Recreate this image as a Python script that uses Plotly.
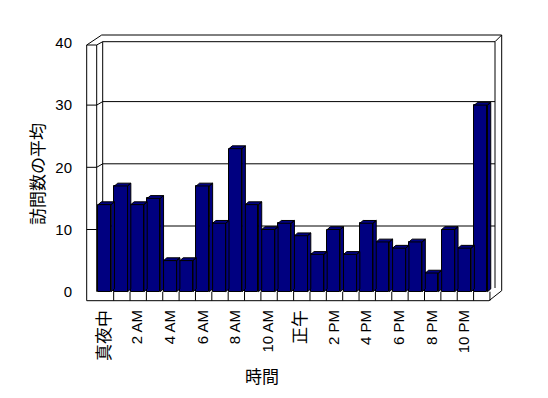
import plotly.graph_objects as go

# ---- data ----
hours = ["真夜中", "1 AM", "2 AM", "3 AM", "4 AM", "5 AM", "6 AM", "7 AM", "8 AM", "9 AM",
         "10 AM", "11 AM", "正午", "1 PM", "2 PM", "3 PM", "4 PM", "5 PM", "6 PM", "7 PM",
         "8 PM", "9 PM", "10 PM", "11 PM"]
visits = [14, 17, 14, 15, 5, 5, 17, 11, 23, 14, 10, 11, 9, 6, 10, 6, 11, 8, 7, 8, 3, 10, 7, 30]
y_ticks = [0, 10, 20, 30, 40]
y_title = "訪問数の平均"
x_title = "時間"

# ---- geometry (pixel mapping of the bar plane, in page pixels) ----
OFF = 8                       # default body margin of the html page
PX, PY = 16.36, 6.22          # px per category, px per unit
X0PX, Y0PX = 97.3, 291.7      # page-pixel position of x=0, y=0
L, R, T, B = 80, 510, 28, 306  # plot area in page px
W, H = 548 - 2 * OFF, 398 - 2 * OFF


def X(px):
    return (px - X0PX) / PX


def Y(py):
    return (Y0PX - py) / PY


def PXp(px):
    return (px - L) / (R - L)


def PYp(py):
    return (B - py) / (B - T)


BAR_OFF, BAR_W = 0.05, 0.80
DX, DY = 0.20, 0.45  # depth offset of bars (data units)
NAVY = "#000080"
FONT = "Liberation Sans, Arial, Noto Sans CJK JP"

n = len(visits)
centers = [i + BAR_OFF + BAR_W / 2 for i in range(n)]

fig = go.Figure()
fig.add_trace(go.Bar(x=centers, y=visits, width=BAR_W,
                     marker=dict(color=NAVY, line=dict(color="black", width=1)),
                     hoverinfo="skip"))

# side and top faces
sx, sy = [], []
for i, v in enumerate(visits):
    x0 = i + BAR_OFF
    x1 = x0 + BAR_W
    sx += [x1, x1 + DX, x1 + DX, x1, x1, None]
    sy += [0, DY, v + DY, v, 0, None]
    sx += [x0, x0 + DX, x1 + DX, x1, x0, None]
    sy += [v, v + DY, v + DY, v, v, None]
fig.add_trace(go.Scatter(x=sx, y=sy, mode="lines", fill="toself", fillcolor=NAVY,
                         line=dict(color="black", width=1), hoverinfo="skip",
                         showlegend=False))

# ---- frame / walls / gridlines as shapes ----
segs = [
    ((86.7, 45), (86.7, 300.7)),
    ((96.7, 45), (96.7, 291.7)),
    ((86.7, 45), (96.7, 45)),
    ((86.7, 45), (101.7, 35)),
    ((96.7, 45), (102.7, 41.7)),
    ((102.7, 41.7), (102.7, 288)),
    ((101.7, 35), (501.7, 35)),
    ((102.7, 41.7), (495, 41.7)),
    ((495, 41.7), (501.7, 35)),
    ((501.7, 35), (501.7, 290.7)),
    ((495, 41.7), (495, 288)),
    ((501.7, 290.7), (489, 300.7)),
    ((86.7, 300.7), (489, 300.7)),
]
line = dict(color="black", width=1)
shapes = []
for (a, b) in segs:
    shapes.append(dict(type="line", xref="x", yref="y", x0=X(a[0]), y0=Y(a[1]),
                       x1=X(b[0]), y1=Y(b[1]), line=line, layer="below"))
for k in range(1, n + 1):
    shapes.append(dict(type="line", xref="x", yref="y", x0=k, y0=0, x1=k, y1=Y(300.7),
                       line=line, layer="below"))
back_dy = 3.5 / PY
for v in y_ticks[1:-1]:
    shapes.append(dict(type="line", xref="x", yref="y", x0=X(86.7), y0=v, x1=X(96.7), y1=v,
                       line=line, layer="below"))
    shapes.append(dict(type="line", xref="x", yref="y", x0=X(96.7), y0=v, x1=X(102.7),
                       y1=v + back_dy, line=line, layer="below"))
    shapes.append(dict(type="line", xref="x", yref="y", x0=X(102.7), y0=v + back_dy,
                       x1=X(495), y1=v + back_dy, line=line, layer="below"))


def label(t):
    if any(ord(c) > 0x2000 for c in t):
        return '<span style="font-size:17px">' + t + '</span>'
    return t


tickvals = [centers[i] for i in range(0, n, 2)]
ticktext = [label(hours[i]) for i in range(0, n, 2)]

fig.update_layout(
    width=W, height=H,
    margin=dict(l=L - OFF, r=W - (R - OFF), t=T - OFF, b=H - (B - OFF), pad=0),
    paper_bgcolor="white", plot_bgcolor="white",
    showlegend=False, bargap=0,
    font=dict(family=FONT, size=15, color="black"),
    shapes=shapes,
    xaxis=dict(range=[X(L), X(R)], showgrid=False, zeroline=False, showline=False,
               tickmode="array", tickvals=tickvals, ticktext=ticktext, tickangle=-90,
               ticks="", ticklabelstandoff=0, fixedrange=True),
    yaxis=dict(range=[Y(B), Y(T)], showgrid=False, zeroline=False, showline=False,
               tickmode="array", tickvals=y_ticks, ticks="", ticklabelstandoff=7,
               fixedrange=True),
    annotations=[
        dict(text=y_title, x=PXp(38), y=PYp(174), xref="paper", yref="paper",
             xanchor="center", yanchor="middle",
             showarrow=False, textangle=-90, font=dict(size=17, family=FONT)),
        dict(text=x_title, x=PXp(262), y=PYp(377), xref="paper", yref="paper",
             xanchor="center", yanchor="middle",
             showarrow=False, font=dict(size=17, family=FONT)),
    ],
)

fig.write_html("out.html")
